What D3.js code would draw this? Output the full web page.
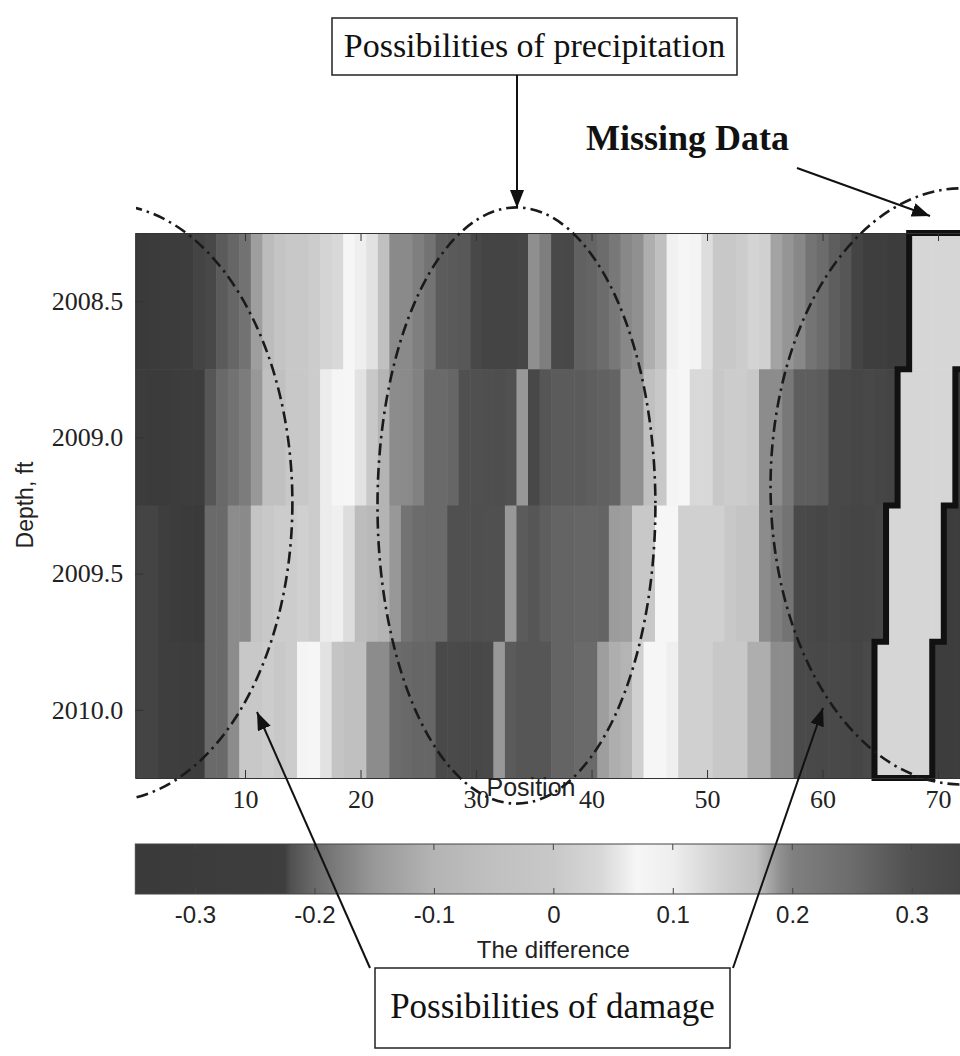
<!DOCTYPE html>
<html>
<head>
<meta charset="utf-8">
<script src="https://cdn.jsdelivr.net/npm/d3@7"></script>
<style>
    html, body { margin: 0; padding: 0; background: #fff; }
    svg { display: block; }
</style>
</head>
<body>
<svg id="chart" width="960" height="1056"></svg>
<script>

// rows of the map (depth axis) and the tick values
var years = [2008.5, 2009.0, 2009.5, 2010.0];
var positionTicks = [10, 20, 30, 40, 50, 60, 70];
var diffTicks = [-0.3, -0.2, -0.1, 0, 0.1, 0.2, 0.3];

// difference per position 1..72, null = missing data
var row2008_5 = [
    -0.34, -0.33, -0.30, -0.30, -0.26, 0.35, 0.335, 0.28, 0.26, 0.235,
    -0.14, -0.067, -0.025, 0, 0, 0.01, 0.03, 0.04, 0.07, 0.063,
    0.05, -0.05, -0.165, -0.165, -0.177, -0.19, -0.211, -0.212, -0.214, 0.335,
    0.35, 0.35, 0.35, 0.34, -0.16, -0.178, 0.33, 0.335, 0.27, 0.265,
    0.25, 0.22, 0.195, 0.19, -0.11, -0.05, 0.065, 0.07, 0.068, 0.045,
    0, 0, 0.01, 0.03, 0.02, 0.182, 0.188, 0.195, 0.23, 0.25,
    0.275, 0.29, 0.35, -0.23, -0.24, -0.30, -0.26, null, null, null,
    null, null
];
var row2009_0 = [
    -0.30, -0.32, -0.31, -0.28, -0.27, -0.25, 0.29, 0.255, 0.235, 0.21,
    -0.15, -0.05, -0.05, 0, 0, 0.01, 0.06, 0.072, 0.07, 0.05,
    0, -0.1, -0.163, -0.165, -0.175, -0.2, -0.2, -0.203, -0.22, -0.22,
    0.305, 0.31, 0.3, -0.15, 0.335, 0.29, 0.28, 0.28, 0.28, 0.275,
    0.27, 0.265, 0.19, 0.19, -0.05, 0, 0.068, 0.07, 0.04, 0.04,
    0, 0.01, 0.01, 0, -0.163, -0.163, -0.185, 0.275, 0.275, 0.28,
    0.335, 0.335, 0.34, 0.335, 0.34, 0.35, null, null, null, null,
    null, -0.25
];
var row2009_5 = [
    0.35, 0.35, -0.24, -0.28, -0.33, -0.34, -0.2, -0.2, -0.163, -0.165,
    -0.025, 0, 0.01, 0.01, 0.02, 0.01, 0.06, 0.063, 0.045, -0.067,
    -0.08, -0.1, -0.15, -0.19, 0.25, 0.253, 0.253, 0.3, 0.3, 0.305,
    0.3, 0.3, -0.15, 0.28, 0.29, 0.275, 0.265, 0.265, 0.26, 0.26,
    0.265, 0.185, -0.14, 0, 0, 0.07, 0.07, 0.02, 0.02, 0.02,
    0.02, 0, -0.025, -0.025, -0.163, -0.178, -0.19, 0.33, 0.335, 0.34,
    0.335, 0.34, 0.345, 0.34, 0.335, null, null, null, null, null,
    -0.25, -0.27
];
var row2010_0 = [
    0.35, 0.35, -0.24, -0.24, -0.26, -0.25, -0.2, -0.2, -0.163, 0,
    0, 0.01, 0, 0.01, 0.068, 0.07, 0.05, -0.025, -0.05, -0.05,
    -0.163, -0.163, 0.25, 0.255, 0.26, 0.26, 0.33, 0.325, 0.33, 0.335,
    0.33, -0.15, 0.28, 0.29, 0.29, 0.29, 0.265, 0.265, 0.253, 0.253,
    -0.14, -0.11, -0.1, 0.02, 0.07, 0.07, 0.063, 0.02, 0.02, 0.02,
    0, 0, 0, -0.11, -0.11, -0.163, -0.163, 0.33, 0.33, 0.335,
    0.33, 0.335, 0.34, 0.33, null, null, null, null, null, -0.25,
    -0.26, -0.25
];

// dash-dot outlines, in data units (position, year)
var ellipses = [
    {pos: -1.9, year: 2009.24, rPos: 16, rYear: 1.094},
    {pos: 33.5, year: 2009.25, rPos: 12.03, rYear: 1.094},
    {pos: 72.1, year: 2009.18, rPos: 16.6, rYear: 1.094}
];


(function () {

    var serif = '"Liberation Serif", "Times New Roman", serif';
    var sans = '"Liberation Sans", Arial, sans-serif';

    var svg = d3.select('#chart');
    var rows = [row2008_5, row2009_0, row2009_5, row2010_0];

    var x = d3.scaleLinear().domain([0.5, 72.5]).range([135.3, 966.9]);
    var y = d3.scaleLinear().domain([2008.25, 2010.25]).range([233, 778]);

    var color = d3.scaleLinear()
        .domain([-0.35, -0.225, -0.22, -0.2, -0.15, -0.1, -0.05, 0, 0.04, 0.07, 0.1, 0.14, 0.17, 0.19, 0.2, 0.25, 0.3, 0.35])
        .range(['#3a3a3a', '#3e3e3e', '#505050', '#6a6a6a', '#989898', '#b4b4b4', '#c0c0c0', '#c8c8c8', '#d8d8d8',
            '#f6f6f6', '#eeeeee', '#d0d0d0', '#c0c0c0', '#909090', '#808080', '#6c6c6c', '#505050', '#444444']);

    var defs = svg.append('defs');
    defs.append('marker')
        .attr('id', 'head')
        .attr('viewBox', '0 0 18 14')
        .attr('refX', 18)
        .attr('refY', 7)
        .attr('markerUnits', 'userSpaceOnUse')
        .attr('markerWidth', 18)
        .attr('markerHeight', 14)
        .attr('orient', 'auto')
        .append('path')
        .attr('d', 'M0,0 L18,7 L0,14 Z')
        .attr('fill', '#111');

    defs.append('clipPath').attr('id', 'clipLeft')
        .append('rect').attr('x', 136).attr('y', 0).attr('width', 824).attr('height', 1056);

    // cells
    var cells = [];
    rows.forEach(function (r, i) {
        r.forEach(function (v, j) {
            cells.push({year: years[i], pos: j + 1, value: v});
        });
    });

    var cw = x(1.5) - x(0.5);
    var ch = y(2008.75) - y(2008.25);

    svg.append('g')
        .selectAll('rect')
        .data(cells)
        .enter()
        .append('rect')
        .attr('x', function (d) { return x(d.pos - 0.5); })
        .attr('y', function (d) { return y(d.year - 0.25); })
        .attr('width', cw + 0.6)
        .attr('height', ch + 0.6)
        .attr('fill', function (d) { return d.value === null ? '#d6d6d6' : color(d.value); });

    // outline of the missing block
    var gaps = rows.map(function (r, i) {
        var idx = [];
        r.forEach(function (v, j) { if (v === null) idx.push(j + 1); });
        return {year: years[i], from: d3.min(idx), to: d3.max(idx)};
    });
    var pts = [];
    gaps.forEach(function (g) {
        pts.push([x(g.to + 0.5), y(g.year - 0.25)]);
        pts.push([x(g.to + 0.5), y(g.year + 0.25)]);
    });
    gaps.slice().reverse().forEach(function (g) {
        pts.push([x(g.from - 0.5), y(g.year + 0.25)]);
        pts.push([x(g.from - 0.5), y(g.year - 0.25)]);
    });
    svg.append('path')
        .attr('d', d3.line()(pts) + 'Z')
        .attr('fill', 'none')
        .attr('stroke', '#111')
        .attr('stroke-width', 6);

    // axes, ticks inside
    var gx = svg.append('g')
        .attr('transform', 'translate(0,' + y(2010.25) + ')')
        .call(d3.axisBottom(x).tickValues(positionTicks).tickSize(-8).tickSizeOuter(0).tickPadding(12));
    var gt = svg.append('g')
        .attr('transform', 'translate(0,' + y(2008.25) + ')')
        .call(d3.axisTop(x).tickValues(positionTicks).tickSize(-8).tickSizeOuter(0).tickFormat(''));
    var gy = svg.append('g')
        .attr('transform', 'translate(' + x(0.5) + ',0)')
        .call(d3.axisLeft(y).tickValues(years).tickFormat(d3.format('.1f')).tickSize(-8).tickSizeOuter(0).tickPadding(12));

    [gx, gt, gy].forEach(function (g) {
        g.selectAll('path, line').attr('stroke', '#333').attr('stroke-width', 1);
        g.selectAll('text').attr('font-family', serif).attr('font-size', 26).attr('fill', '#222');
    });

    svg.append('text')
        .attr('x', 531).attr('y', 796)
        .attr('text-anchor', 'middle')
        .attr('font-family', sans).attr('font-size', 25).attr('fill', '#222')
        .text('Position');

    svg.append('text')
        .attr('transform', 'translate(33,505) rotate(-90)')
        .attr('text-anchor', 'middle')
        .attr('font-family', sans).attr('font-size', 23).attr('fill', '#222')
        .text('Depth, ft');

    // colour bar
    var cb = d3.scaleLinear().domain([-0.35, 0.35]).range([135.3, 971.4]);
    var grad = defs.append('linearGradient')
        .attr('id', 'cbGrad')
        .attr('gradientUnits', 'userSpaceOnUse')
        .attr('x1', cb(-0.35)).attr('x2', cb(0.35))
        .attr('y1', 0).attr('y2', 0);
    grad.selectAll('stop')
        .data(color.domain())
        .enter()
        .append('stop')
        .attr('offset', function (d) { return (d + 0.35) / 0.7; })
        .attr('stop-color', function (d) { return color(d); });

    svg.append('rect')
        .attr('x', cb(-0.35)).attr('y', 844)
        .attr('width', cb(0.35) - cb(-0.35)).attr('height', 50)
        .attr('fill', 'url(#cbGrad)')
        .attr('stroke', '#444').attr('stroke-width', 1);

    var gc = svg.append('g')
        .attr('transform', 'translate(0,894)')
        .call(d3.axisBottom(cb).tickValues(diffTicks)
            .tickFormat(function (d) { return String(d); })
            .tickSize(-6).tickSizeOuter(0).tickPadding(12));
    gc.select('.domain').remove();
    gc.selectAll('line').attr('stroke', '#444');
    gc.selectAll('text').attr('font-family', sans).attr('font-size', 24).attr('fill', '#222');
    svg.append('g')
        .attr('transform', 'translate(0,844)')
        .selectAll('line')
        .data(diffTicks)
        .enter()
        .append('line')
        .attr('x1', function (d) { return cb(d); })
        .attr('x2', function (d) { return cb(d); })
        .attr('y1', 0).attr('y2', 6)
        .attr('stroke', '#444');

    svg.append('text')
        .attr('x', cb(0)).attr('y', 958)
        .attr('text-anchor', 'middle')
        .attr('font-family', sans).attr('font-size', 24).attr('fill', '#222')
        .text('The difference');

    // dash-dot ellipses
    svg.append('g')
        .attr('clip-path', 'url(#clipLeft)')
        .selectAll('ellipse')
        .data(ellipses)
        .enter()
        .append('ellipse')
        .attr('cx', function (d) { return x(d.pos); })
        .attr('cy', function (d) { return y(d.year); })
        .attr('rx', function (d) { return x(d.rPos) - x(0); })
        .attr('ry', function (d) { return y(2008.25 + d.rYear) - y(2008.25); })
        .attr('fill', 'none')
        .attr('stroke', '#1a1a1a')
        .attr('stroke-width', 2.6)
        .attr('stroke-dasharray', '12,5,2.5,5');

    // annotations
    function arrow(x1, y1, x2, y2, w) {
        svg.append('line')
            .attr('x1', x1).attr('y1', y1).attr('x2', x2).attr('y2', y2)
            .attr('stroke', '#111').attr('stroke-width', w || 2)
            .attr('marker-end', 'url(#head)');
    }

    svg.append('rect')
        .attr('x', 332).attr('y', 18).attr('width', 405).attr('height', 57)
        .attr('fill', '#fff').attr('stroke', '#222').attr('stroke-width', 1.5);
    svg.append('text')
        .attr('x', 534.5).attr('y', 57)
        .attr('text-anchor', 'middle')
        .attr('font-family', serif).attr('font-size', 34).attr('fill', '#111')
        .text('Possibilities of precipitation');
    arrow(517, 75, 517, 208);

    svg.append('text')
        .attr('x', 586).attr('y', 150)
        .attr('font-family', serif).attr('font-size', 36).attr('font-weight', 'bold').attr('fill', '#111')
        .text('Missing Data');
    arrow(797, 168, 930, 216);

    svg.append('rect')
        .attr('x', 375).attr('y', 968).attr('width', 355).attr('height', 80)
        .attr('fill', '#fff').attr('stroke', '#222').attr('stroke-width', 1.5);
    svg.append('text')
        .attr('x', 552.5).attr('y', 1018)
        .attr('text-anchor', 'middle')
        .attr('font-family', serif).attr('font-size', 35).attr('fill', '#111')
        .text('Possibilities of damage');
    arrow(370, 968, 257, 712);
    arrow(733, 968, 823, 708);

})();
</script>
</body>
</html>
